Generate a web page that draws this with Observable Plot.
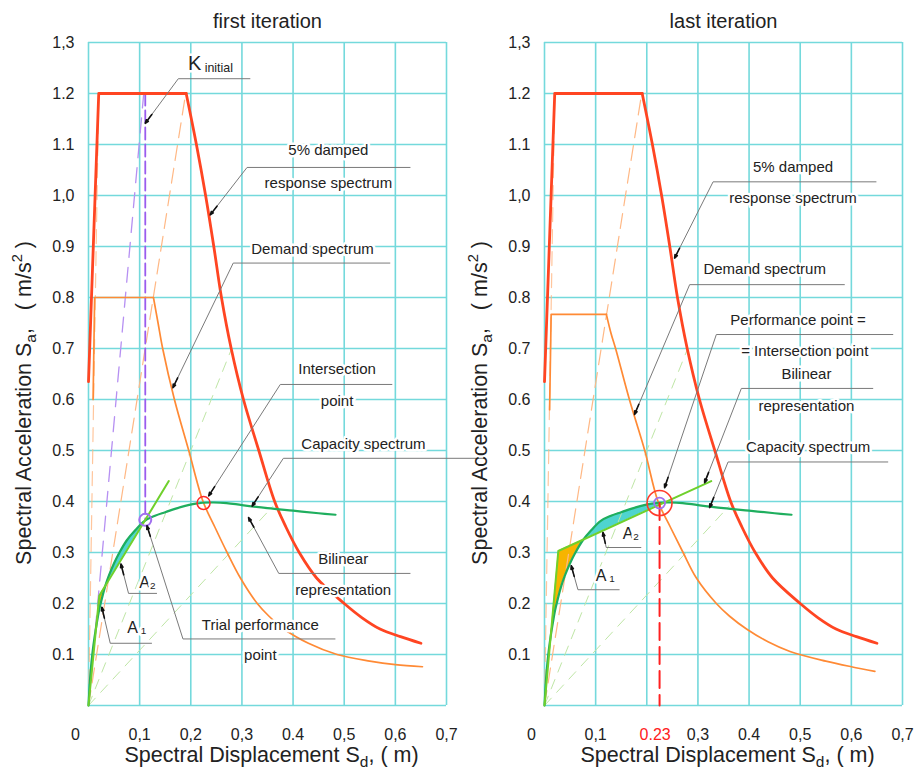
<!DOCTYPE html>
<html><head><meta charset="utf-8">
<script src="https://cdn.jsdelivr.net/npm/d3@7"></script>
<script src="https://cdn.jsdelivr.net/npm/@observablehq/plot@0.6"></script>
<style>
body{margin:0;background:#fff;}
#wrap{display:flex;width:916px;height:771px;position:relative;}
#wrap svg{flex:none;max-width:none;overflow:visible;}
</style></head><body><div id="wrap"></div>
<script>
// ---------- data (Sd in m, Sa in m/s^2) ----------
const gridX = [0,0.1,0.2,0.3,0.4,0.5,0.6,0.7];
const gridY = [0,0.1,0.2,0.3,0.4,0.5,0.6,0.7,0.8,0.9,1.0,1.1,1.2,1.3];
const yTicks = [0.1,0.2,0.3,0.4,0.5,0.6,0.7,0.8,0.9,1.0,1.1,1.2,1.3];
const yTickLabels = ["0.1","0.2","0.3","0.4","0.5","0.6","0.7","0.8","0.9","1,0","1.1","1.2","1,3"];
const xTicksFirst = [0,0.1,0.2,0.3,0.4,0.5,0.6,0.7];
const xTickLabelsFirst = ["0","0,1","0,2","0,3","0.4","0,5","0,6","0,7"];
const xTicksLast = [0,0.1,0.23,0.3,0.4,0.5,0.6,0.7];
const xTickLabelsLast = ["0","0,1","0.23","0,3","0.4","0,5","0,6","0,7"];

// 5% damped elastic response spectrum: rising edge + plateau, then descending branch
const responseRise = [[0,0.635],[0.02,1.2],[0.191,1.2]];
const responseFall = [[0.191,1.2],[0.211,1.1],[0.229,1.0],[0.245,0.9],[0.26,0.8],[0.279,0.7],[0.303,0.6],[0.333,0.5],[0.364,0.4],[0.386,0.35],[0.412,0.3],[0.446,0.25],[0.5,0.2],[0.535,0.172],[0.57,0.15],[0.61,0.135],[0.65,0.122]];
// demand (reduced) spectra
const demandFirstRise = [[0.009,0.6],[0.012,0.8],[0.127,0.8]];
const demandFirstFall = [[0.127,0.8],[0.136,0.75],[0.145,0.7],[0.168,0.6],[0.196,0.5],[0.224,0.4],[0.247,0.35],[0.271,0.3],[0.297,0.25],[0.33,0.2],[0.353,0.175],[0.382,0.15],[0.43,0.122],[0.486,0.1],[0.55,0.087],[0.6,0.08],[0.653,0.076]];
const demandLastRise = [[0.01,0.58],[0.013,0.767],[0.121,0.767]];
const demandLastFall = [[0.121,0.767],[0.13,0.73],[0.139,0.7],[0.166,0.6],[0.196,0.5],[0.222,0.4],[0.246,0.35],[0.271,0.3],[0.297,0.25],[0.336,0.2],[0.362,0.175],[0.395,0.15],[0.437,0.125],[0.48,0.106],[0.55,0.087],[0.6,0.076],[0.646,0.067]];
const capacitySpectrum = [[0,0],[0.002,0.035],[0.004,0.065],[0.008,0.105],[0.012,0.135],[0.016,0.16],[0.021,0.188],[0.027,0.213],[0.033,0.235],[0.04,0.255],[0.05,0.279],[0.06,0.299],[0.075,0.324],[0.09,0.342],[0.11,0.362],[0.13,0.372],[0.15,0.379],[0.18,0.389],[0.21,0.396],[0.24,0.398],[0.27,0.397],[0.3,0.393],[0.35,0.387],[0.4,0.382],[0.45,0.377],[0.483,0.374]];
const bilinearFirst = [[0,0],[0.021,0.215],[0.157,0.44]];
const bilinearLast = [[0,0],[0.027,0.303],[0.326,0.44]];

const kInitialRay = [[0,0],[0.108,1.2]];
const cornerPeriodRay = [[0,0],[0.19,1.2]];
const shortPeriodRay = [[0,0],[0.02,1.2]];
const secantRayA = [[0,0],[0.28,0.7]];
const secantRayB = [[0,0],[0.36,0.39]];
const kInitialDrop = [[0.111,1.2],[0.111,0.364]];

const trialPoint = [[0.111,0.364]];
const intersectionFirst = [[0.225,0.397]];
const performancePoint = [[0.225,0.397]];
const performanceDrop = [[0.225,0.397],[0.225,0]];

// shaded areas: [from Sd, to Sd]
const areaA1First = [0.015,0.033];
const areaA2First = [0.033,0.111];
const areaA1Last = [0.012,0.075];
const areaA2Last = [0.075,0.225];

// annotations (data units): tip of arrow, elbow, end of horizontal line
const leadersFirst = [
  {tx:0.111,ty:1.1415, ex:0.1756,ey:1.229, end:0.3164},
  {tx:0.238,ty:0.962,  ex:0.31,  ey:1.055, end:0.6295},
  {tx:0.165,ty:0.623,  ex:0.283, ey:0.8675,end:0.590},
  {tx:0.235,ty:0.411,  ex:0.375, ey:0.6295,end:0.594},
  {tx:0.32, ty:0.391,  ex:0.381, ey:0.4847,end:0.776},
  {tx:0.313,ty:0.3685, ex:0.372, ey:0.259, end:0.6295},
  {tx:0.0634,ty:0.2773,ex:0.0783,ey:0.2198,end:0.1339},
  {tx:0.0262,ty:0.1924,ex:0.0425,ey:0.122, end:0.124},
  {tx:0.1143,ty:0.3523,ex:0.1847,ey:0.1305,end:0.4828}
];
const labelsFirst = [
  {x:0.2384,y:1.258,text:"K~{\u00a0initial}",size:20},
  {x:0.469,y:1.088,text:"5% damped",size:15},
  {x:0.469,y:1.025,text:"response spectrum",size:15},
  {x:0.438,y:0.894,text:"Demand spectrum",size:15},
  {x:0.486,y:0.659,text:"Intersection",size:15},
  {x:0.486,y:0.597,text:"point",size:15},
  {x:0.5376,y:0.5133,text:"Capacity spectrum",size:15},
  {x:0.498,y:0.287,text:"Bilinear",size:15},
  {x:0.498,y:0.2264,text:"representation",size:15},
  {x:0.115,y:0.241,text:"A~{2}",size:16},
  {x:0.0943,y:0.1513,text:"A~{\u00a01}",size:16},
  {x:0.336,y:0.158,text:"Trial performance",size:15},
  {x:0.336,y:0.0978,text:"point",size:15}
];
const leadersLast = [
  {tx:0.2544,ty:0.8773,ex:0.3296,ey:1.0268,end:0.649},
  {tx:0.1761,ty:0.5708,ex:0.2838,ey:0.8252,end:0.5871},
  {tx:0.2348,ty:0.4272,ex:0.336, ey:0.7274,end:0.6818},
  {tx:0.3131,ty:0.437, ex:0.3849,ey:0.6217,end:0.6427},
  {tx:0.3229,ty:0.3881,ex:0.3589,ey:0.4775,end:0.672},
  {tx:0.1143,ty:0.3391,ex:0.1207,ey:0.3098,end:0.1892},
  {tx:0.0523,ty:0.274, ex:0.0654,ey:0.227, end:0.1468}
];
const labelsLast = [
  {x:0.486,y:1.0554,text:"5% damped",size:15},
  {x:0.486,y:0.9947,text:"response spectrum",size:15},
  {x:0.4305,y:0.8546,text:"Demand spectrum",size:15},
  {x:0.4959,y:0.7554,text:"Performance point =",size:15},
  {x:0.5088,y:0.6947,text:"= Intersection point",size:15},
  {x:0.5121,y:0.6491,text:"Bilinear",size:15},
  {x:0.5121,y:0.5871,text:"representation",size:15},
  {x:0.5155,y:0.5074,text:"Capacity spectrum",size:15},
  {x:0.1687,y:0.336,text:"A~{2}",size:16},
  {x:0.1188,y:0.2544,text:"A~{\u00a01}",size:16}
];

const xLabel = "Spectral Displacement S_{d}, ( m)";
const yLabel = "Spectral Acceleration S_{a},\u00a0\u00a0\u00a0( m/s^{2} )";

// ---------- helpers ----------
const C = {grid:"#74d9dc", red:"#ff4522", orange:"#ff8a35", green:"#1fae5e", lime:"#6fd02c",
  purple:"#a070ee", a1:"#f7b400", a2:"#4fd4cf", lightGreen:"#bfe6a6", lightOrange:"#ffb885", leader:"#7a7a7a"};
function interp(pts, x){
  for(let i=1;i<pts.length;i++){
    if(x<=pts[i][0]){const [x0,y0]=pts[i-1],[x1,y1]=pts[i]; return y0+(y1-y0)*(x-x0)/(x1-x0);}
  }
  return pts[pts.length-1][1];
}
function band(range, a, b){
  const [lo,hi]=range, n=60, out=[];
  for(let i=0;i<=n;i++){const x=lo+(hi-lo)*i/n; out.push({x, y1:interp(a,x), y2:interp(b,x)});}
  return out;
}
function seg(pts){return pts.map(p=>({x:p[0],y:p[1]}));}
function leaderMarks(leaders){
  const links=[];
  leaders.forEach(l=>{links.push({x1:l.tx,y1:l.ty,x2:l.ex,y2:l.ey}); links.push({x1:l.ex,y1:l.ey,x2:l.end,y2:l.ey});});
  const heads=leaders.map(l=>{
    const dx=(l.ex-l.tx)*511, dy=(l.ey-l.ty)*510, len=Math.hypot(dx,dy), t=11/len;
    return {x1:l.tx+(l.ex-l.tx)*t, y1:l.ty+(l.ey-l.ty)*t, x2:l.tx, y2:l.ty};
  });
  return [
    Plot.link(links,{x1:"x1",y1:"y1",x2:"x2",y2:"y2",stroke:C.leader,strokeWidth:1}),
    Plot.arrow(heads,{x1:"x1",y1:"y1",x2:"x2",y2:"y2",stroke:"#111",strokeWidth:1.6,headLength:7,headAngle:40})
  ];
}
const dashed=(pts,stroke,w,dash,op=1)=>Plot.line(seg(pts),{x:"x",y:"y",stroke,strokeWidth:w,strokeDasharray:dash,strokeOpacity:op});
const curve=(pts,stroke,w,c="linear")=>Plot.line(seg(pts),{x:"x",y:"y",stroke,strokeWidth:w,strokeLinejoin:"round",curve:c});

function panel(cfg){
  const font="Liberation Sans, Arial, Helvetica, sans-serif";
  const tickMap=new Map(cfg.xTicks.map((t,i)=>[t,cfg.xTickLabels[i]]));
  const yMap=new Map(yTicks.map((t,i)=>[t,yTickLabels[i]]));
  const fmt=d=>tickMap.get(d);
  const regular=cfg.xTicks.filter(t=>t!==0 && t!==0.23);
  const marks=[
    Plot.gridX(gridX,{stroke:C.grid,strokeOpacity:1,strokeWidth:1.6}),
    Plot.gridY(gridY,{stroke:C.grid,strokeOpacity:1,strokeWidth:1.6}),
    Plot.areaY(band(cfg.a2,cfg.bilinear,capacitySpectrum),{x:"x",y1:"y1",y2:"y2",fill:C.a2}),
    Plot.areaY(band(cfg.a1,capacitySpectrum,cfg.bilinear),{x:"x",y1:"y1",y2:"y2",fill:C.a1}),
    dashed(shortPeriodRay,C.lightOrange,1.2,"14,8",0.8),
    dashed(cornerPeriodRay,C.lightOrange,1.2,"15,8"),
    dashed(secantRayA,C.lightGreen,1,"10,8"),
    dashed(secantRayB,C.lightGreen,1,"10,8"),
    ...cfg.extraBelow,
    curve(cfg.demandRise,C.orange,1.7),
    curve(cfg.demandFall,C.orange,1.7,"catmull-rom"),
    curve(responseRise,C.red,2.8),
    curve(responseFall,C.red,2.8,"catmull-rom"),
    curve(capacitySpectrum,C.green,2.2,"catmull-rom"),
    curve(cfg.bilinear,C.lime,2),
    ...cfg.extraAbove,
    Plot.text(cfg.labels,{x:"x",y:"y",text:"text",fontSize:"size",fill:"#222",stroke:"white",strokeWidth:5,fontFamily:font}),
    ...leaderMarks(cfg.leaders),
    Plot.axisY(yTicks,{tickSize:0,tickPadding:14,fontSize:16,tickFormat:d=>yMap.get(d),label:null,fill:"#222",fontFamily:font}),
    Plot.axisX(regular,{tickSize:0,tickPadding:23,fontSize:16,tickFormat:fmt,label:null,fill:"#222",fontFamily:font}),
    Plot.axisX([0],{tickSize:0,tickPadding:23,fontSize:16,tickFormat:fmt,label:null,dx:-13,fill:"#222",fontFamily:font}),
    ...cfg.extraAxis,
    Plot.text([cfg.title],{frameAnchor:"top",lineAnchor:"middle",dy:-21,fontSize:20,text:d=>d,fill:"#222",fontFamily:font}),
    Plot.text([xLabel],{frameAnchor:"bottom",lineAnchor:"middle",textAnchor:"middle",dy:50,dx:4,fontSize:21.5,text:d=>d,fill:"#222",fontFamily:font}),
    Plot.text([yLabel],{frameAnchor:"left",rotate:-90,lineAnchor:"middle",textAnchor:"middle",dx:-64,dy:29,fontSize:21.5,text:d=>d,fill:"#222",fontFamily:font})
  ];
  return Plot.plot({
    width:cfg.width,height:771,marginLeft:88,marginRight:cfg.marginRight,marginTop:42,marginBottom:66,
    x:{domain:[0,0.7]},y:{domain:[0,1.3]},
    style:{fontFamily:font,background:"transparent",overflow:"visible"},
    marks
  });
}

function richText(svg){
  svg.querySelectorAll("text").forEach(t=>{
    const s=t.textContent;
    if(!/[_^~]\{/.test(s)) return;
    const base=parseFloat(getComputedStyle(t).fontSize)||16;
    while(t.firstChild) t.removeChild(t.firstChild);
    const re=/([_^~])\{([^}]*)\}/g; let last=0,m,shift=0;
    const add=(txt,size,sh)=>{
      const ts=document.createElementNS("http://www.w3.org/2000/svg","tspan");
      ts.textContent=txt; if(size) ts.setAttribute("font-size",size+"px");
      const d=sh-shift; if(d) ts.setAttribute("dy",d+"px"); shift=sh; t.appendChild(ts);
    };
    while((m=re.exec(s))){
      if(m.index>last) add(s.slice(last,m.index),null,0);
      if(m[1]==="_") add(m[2],base*0.72,base*0.2);
      else if(m[1]==="^") add(m[2],base*0.68,-base*0.42);
      else add(m[2],base*0.62,base*0.06);
      last=re.lastIndex;
    }
    if(last<s.length) add(s.slice(last),null,0);
  });
}

const left=panel({
  width:456,marginRight:10,title:"first iteration",
  xTicks:xTicksFirst,xTickLabels:xTickLabelsFirst,
  demandRise:demandFirstRise,demandFall:demandFirstFall,bilinear:bilinearFirst,a1:areaA1First,a2:areaA2First,
  labels:labelsFirst,leaders:leadersFirst,
  extraBelow:[dashed(kInitialRay,"#b690f2",1.3,"15,10"), dashed(kInitialDrop,"#9a5cee",1.8,"12,5")],
  extraAbove:[
    Plot.dot(trialPoint,{x:d=>d[0],y:d=>d[1],r:6,stroke:C.purple,strokeWidth:2,fill:"none"}),
    Plot.dot(intersectionFirst,{x:d=>d[0],y:d=>d[1],r:6.5,stroke:"#ff2a2a",strokeWidth:1.5,fill:"none"})
  ],
  extraAxis:[]
});
const right=panel({
  width:460,marginRight:14,title:"last iteration",
  xTicks:xTicksLast,xTickLabels:xTickLabelsLast,
  demandRise:demandLastRise,demandFall:demandLastFall,bilinear:bilinearLast,a1:areaA1Last,a2:areaA2Last,
  labels:labelsLast,leaders:leadersLast,
  extraBelow:[],
  extraAbove:[
    dashed(performanceDrop,"#ff2020",2,"17,7"),
    Plot.dot(performancePoint,{x:d=>d[0],y:d=>d[1],r:12.5,stroke:"#ff3a2a",strokeWidth:1.6,fill:"none"}),
    Plot.dot(performancePoint,{x:d=>d[0],y:d=>d[1],r:5.5,stroke:C.purple,strokeWidth:1.8,fill:"none"})
  ],
  extraAxis:[Plot.axisX([0.23],{tickSize:0,tickPadding:23,fontSize:16,tickFormat:d=>xTickLabelsLast[xTicksLast.indexOf(d)],label:null,dx:-7,fill:"#ff2020",fontFamily:"Liberation Sans, Arial, sans-serif"})]
});
const wrap=document.getElementById("wrap");
wrap.appendChild(left); wrap.appendChild(right);
richText(left); richText(right);
</script></body></html>
